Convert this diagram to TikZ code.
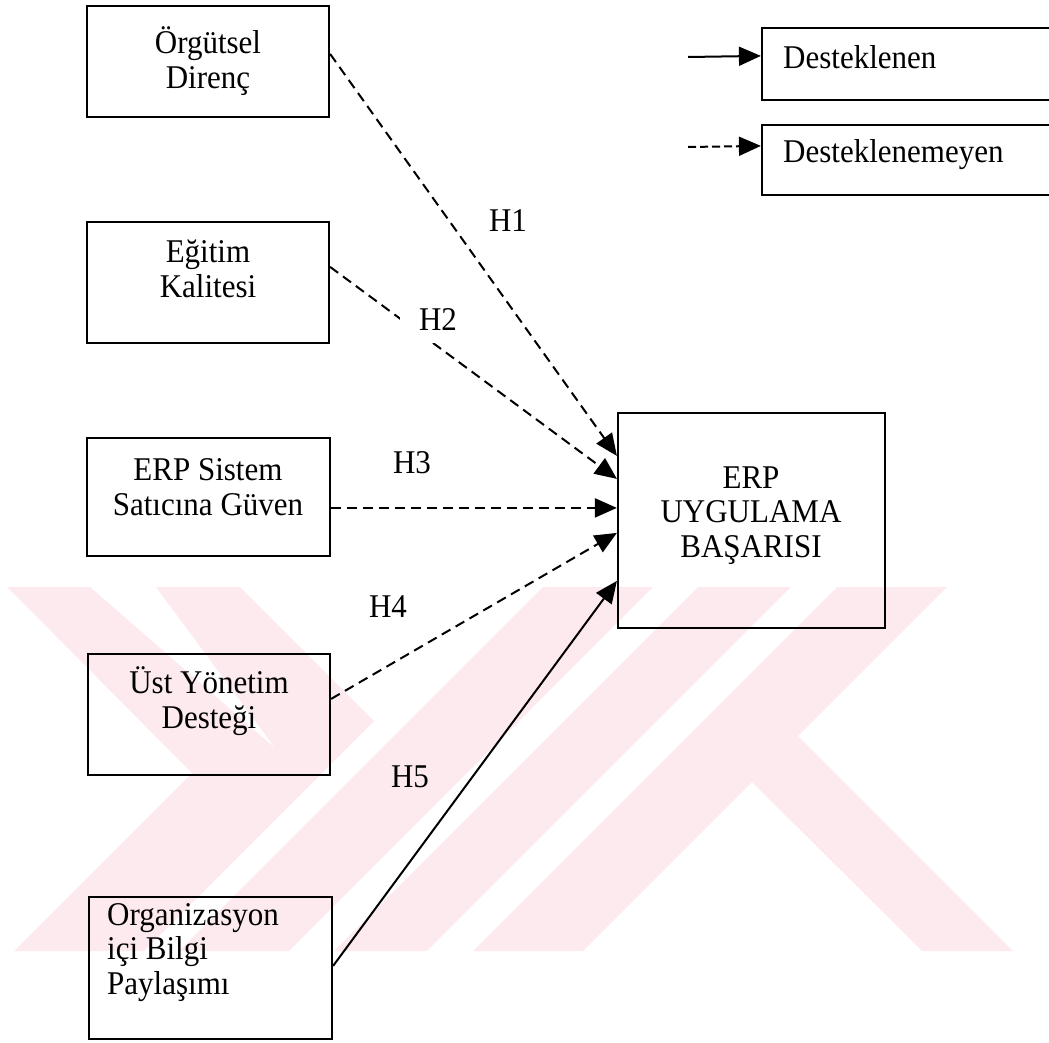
\documentclass[tikz,border=0pt]{standalone}
\usepackage{fontspec}
\usepackage{graphicx}
\setmainfont{Liberation Serif}
\usetikzlibrary{arrows.meta,calc}
\definecolor{stamp}{RGB}{253,234,238}
% slightly tall serif lines, as in the printed figure
\newcommand{\tallc}[1]{\scalebox{1}[1.07]{\begin{tabular}{@{}c@{}}#1\end{tabular}}}
\newcommand{\talll}[1]{\scalebox{1}[1.07]{\begin{tabular}{@{}l@{}}#1\end{tabular}}}
\newcommand{\tallw}[1]{\scalebox{1}[1.07]{#1}}
\begin{document}
\begin{tikzpicture}[x=1pt,y=-1pt,
  box/.style={draw, line width=2.2pt, inner sep=0pt},
  txt/.style={font=\fontsize{31}{32.5}\selectfont, inner sep=0pt},
  lbl/.style={txt},
  hyp/.style={txt},
  link/.style={line width=2pt, -{Triangle[length=22pt,width=19pt]}},
  weak/.style={link, dash pattern=on 10pt off 6pt},
]
\useasboundingbox (0,0) rectangle (1049,1042);
\clip (0,0) rectangle (1049,1042);

% faint emblem behind the diagram
\begin{scope}
  \clip (0,587) rectangle (1049,951);
  % left chevron with its inner notch
  \fill[stamp, even odd rule]
    (7,587) -- (240,587) -- (374,721) -- (144,951) -- (14,951) -- (192,773) -- cycle
    (90,587) -- (156,587) -- (275,748) -- cycle;
  % rising bands
  \fill[stamp] (543,587) -- (653,587) -- (289,951) -- (179,951) -- cycle;
  \fill[stamp] (698,587) -- (791,587) -- (427,951) -- (334,951) -- cycle;
  \fill[stamp] (837,587) -- (947,587) -- (583,951) -- (473,951) -- cycle;
  % right leg
  \fill[stamp] (798,736) -- (1013,951) -- (922,951) -- (752,782) -- cycle;
\end{scope}

% factor boxes (left column)
\node[box, minimum width=242pt, minimum height=111pt] (org)  at (208,61.5)  {};
\node[box, minimum width=242pt, minimum height=121pt] (egt)  at (208,282.5) {};
\node[box, minimum width=243pt, minimum height=118pt] (erps) at (208.5,497) {};
\node[box, minimum width=242pt, minimum height=121pt] (ust)  at (209,714.5) {};
\node[box, minimum width=243pt, minimum height=142pt] (orgz) at (210.5,968) {};

% outcome box
\node[box, minimum width=267pt, minimum height=215pt] (erp) at (751.5,520.5) {};

% legend boxes
\node[box, minimum width=300pt, minimum height=72pt] (leg1) at (912,64) {};
\node[box, minimum width=300pt, minimum height=70pt] (leg2) at (912,160) {};

% box texts
\node[lbl] (orgT)  at (208,63)  {\tallc{Örgütsel\\Direnç}};
\node[lbl] (egtT)  at (208,273) {\tallc{Eğitim\\Kalitesi}};
\node[lbl] (erpsT) at (208,491) {\tallc{ERP Sistem\\Satıcına Güven}};
\node[lbl] (ustT)  at (209,703) {\tallc{Üst Yönetim\\Desteği}};
\node[txt, anchor=west] (orgzT) at (107,953) {\talll{Organizasyon\\içi Bilgi\\Paylaşımı}};
\node[lbl] (erpT)  at (751,516) {\tallc{ERP\\UYGULAMA\\BAŞARISI}};
\node[txt, anchor=west] (leg1T) at (783,57)  {\tallw{Desteklenen}};
\node[txt, anchor=west] (leg2T) at (783,155) {\tallw{Desteklenemeyen}};

% legend arrows
\coordinate (l1s) at (688,57);
\coordinate (l2s) at (688,147);
\draw[link] (l1s) -- ($(leg1.north west)+(0,29)$);
\draw[weak, dash pattern=on 8pt off 4pt] (l2s) -- ($(leg2.north west)+(0,22)$);

% hypothesis paths
\draw[weak] ($(org.north east)+(0,49)$)  -- ($(erp.north west)+(0,44)$);
\draw[weak] ($(egt.north east)+(0,46)$)  -- ($(erp.north west)+(0,67)$);
\draw[weak] ($(erps.north east)+(0,71)$) -- ($(erp.north west)+(0,96)$);
\draw[weak] ($(ust.north east)+(0,46)$)  -- ($(erp.north west)+(0,121)$);
\draw[link] ($(orgz.north east)+(0,70)$) -- ($(erp.north west)+(0,169)$);

% hypothesis labels
\node[hyp] (h1) at (508,221) {\tallw{H1}};
\node[hyp, fill=white, minimum width=76pt, minimum height=47pt] (h2) at (438,319.5) {\tallw{H2}};
\node[hyp] (h3) at (412,463) {\tallw{H3}};
\node[hyp] (h4) at (388,607) {\tallw{H4}};
\node[hyp] (h5) at (410,777) {\tallw{H5}};
\end{tikzpicture}
\end{document}
